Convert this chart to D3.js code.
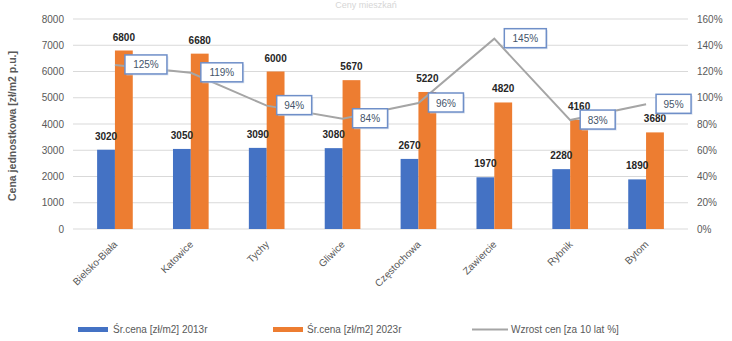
<!DOCTYPE html>
<html>
<head>
<meta charset="utf-8">
<script src="https://cdn.jsdelivr.net/npm/d3@7"></script>
<style>
  html, body { margin: 0; padding: 0; background: #fff; }
  svg { display: block; font-family: "Liberation Sans", Arial, sans-serif; }
</style>
</head>
<body>
<svg id="chart" width="732" height="341"></svg>
<script>
// Average unit prices per city and their 10-year growth
const cities = ["Bielsko-Biała", "Katowice", "Tychy", "Gliwice", "Częstochowa", "Zawiercie", "Rybnik", "Bytom"];
const price2013 = [3020, 3050, 3090, 3080, 2670, 1970, 2280, 1890];
const price2023 = [6800, 6680, 6000, 5670, 5220, 4820, 4160, 3680];
const growthPct = [125, 119, 94, 84, 96, 145, 83, 95];

const leftTicks = [0, 1000, 2000, 3000, 4000, 5000, 6000, 7000, 8000];
const rightTicks = [0, 20, 40, 60, 80, 100, 120, 140, 160];

const seriesNames = ["Śr.cena [zł/m2] 2013r", "Śr.cena [zł/m2] 2023r", "Wzrost cen [za 10 lat %]"];
const titleText = "Ceny mieszkań";
const yTitle = "Cena jednostkowa [zł/m2 p.u.]";

const colors = { blue: "#4472C4", orange: "#ED7D31", gray: "#A5A5A5", grid: "#D9D9D9", text: "#595959" };

const svg = d3.select("#chart");
const plot = { left: 77, right: 684, top: 19, bottom: 229 };

const x = d3.scaleBand().domain(cities).range([plot.left, plot.right])
  .paddingInner(0.53).paddingOuter(0.265);
const yL = d3.scaleLinear().domain([0, 8000]).range([plot.bottom, plot.top]);
const yR = d3.scaleLinear().domain([0, 160]).range([plot.bottom, plot.top]);
const half = x.bandwidth() / 2;

// faint title at the top edge
svg.append("text").attr("x", 366).attr("y", 8).attr("text-anchor", "middle")
  .attr("font-size", 9).attr("fill", "#d6d6d6").text(titleText);

// gridlines
svg.append("g").selectAll("line").data(leftTicks).join("line")
  .attr("x1", plot.left - 4).attr("x2", plot.right + 4)
  .attr("y1", d => yL(d)).attr("y2", d => yL(d))
  .attr("stroke", colors.grid).attr("stroke-width", 1);

// left axis
const axL = svg.append("g").attr("transform", `translate(${plot.left - 4},0)`)
  .call(d3.axisLeft(yL).tickValues(leftTicks).tickSize(0).tickPadding(9).tickFormat(d3.format("d")));
axL.select(".domain").remove();
axL.selectAll("text").attr("font-size", 10).attr("fill", colors.text).attr("font-family", "Liberation Sans, Arial, sans-serif");

// right axis
const axR = svg.append("g").attr("transform", `translate(${plot.right + 4},0)`)
  .call(d3.axisRight(yR).tickValues(rightTicks).tickSize(0).tickPadding(9).tickFormat(d => d + "%"));
axR.select(".domain").remove();
axR.selectAll("text").attr("font-size", 10).attr("fill", colors.text).attr("font-family", "Liberation Sans, Arial, sans-serif");

// y-axis title
svg.append("text").attr("transform", `translate(16,${(plot.top + plot.bottom) / 2 + 2}) rotate(-90)`)
  .attr("text-anchor", "middle").attr("font-size", 10.5).attr("font-weight", "bold")
  .attr("fill", colors.text).text(yTitle);

// bars
const bars = svg.append("g");
bars.selectAll("rect.b13").data(cities).join("rect").attr("class", "b13")
  .attr("x", d => x(d)).attr("width", half)
  .attr("y", (d, i) => yL(price2013[i])).attr("height", (d, i) => yL(0) - yL(price2013[i]))
  .attr("fill", colors.blue);
bars.selectAll("rect.b23").data(cities).join("rect").attr("class", "b23")
  .attr("x", d => x(d) + half).attr("width", half)
  .attr("y", (d, i) => yL(price2023[i])).attr("height", (d, i) => yL(0) - yL(price2023[i]))
  .attr("fill", colors.orange);

// bar value labels
const lab = svg.append("g").attr("font-size", 10).attr("font-weight", "bold").attr("fill", "#262626").attr("text-anchor", "middle");
lab.selectAll("text.l13").data(cities).join("text").attr("class", "l13")
  .attr("x", d => x(d) + half / 2).attr("y", (d, i) => yL(price2013[i]) - 10)
  .text((d, i) => price2013[i]);
lab.selectAll("text.l23").data(cities).join("text").attr("class", "l23")
  .attr("x", d => x(d) + half * 1.5).attr("y", (d, i) => yL(price2023[i]) - 10)
  .text((d, i) => price2023[i]);

// growth line
const pts = cities.map((c, i) => [x(c) + half, yR(growthPct[i])]);
svg.append("path").attr("d", d3.line()(pts))
  .attr("fill", "none").attr("stroke", colors.gray).attr("stroke-width", 2);

// growth callouts
const call = svg.append("g");
pts.forEach((p, i) => {
  const t = growthPct[i] + "%";
  const w = t.length > 3 ? 42 : 35;
  const g = call.append("g").attr("transform", `translate(${p[0] + 10},${p[1]})`);
  g.append("rect").attr("x", 1.5).attr("y", -8.5).attr("width", w).attr("height", 19)
    .attr("fill", "#c8d3e6").attr("opacity", 0.6);
  g.append("rect").attr("x", 0).attr("y", -10).attr("width", w).attr("height", 19)
    .attr("fill", "#fff").attr("stroke", "#6f8fc8").attr("stroke-width", 1.5);
  g.append("text").attr("x", w / 2).attr("y", 3.5).attr("text-anchor", "middle")
    .attr("font-size", 10).attr("fill", "#44546A").text(t);
});

// category labels
svg.append("g").selectAll("text").data(cities).join("text")
  .attr("transform", d => `translate(${x(d) + half + 3},${245}) rotate(-45)`)
  .attr("text-anchor", "end").attr("font-size", 10).attr("fill", colors.text)
  .text(d => d);

// legend
const lg = svg.append("g").attr("font-size", 10).attr("fill", colors.text);
lg.append("rect").attr("x", 78).attr("y", 327).attr("width", 30).attr("height", 5).attr("fill", colors.blue);
lg.append("text").attr("x", 113).attr("y", 333).text(seriesNames[0]);
lg.append("rect").attr("x", 273).attr("y", 327).attr("width", 30).attr("height", 5).attr("fill", colors.orange);
lg.append("text").attr("x", 307).attr("y", 333).text(seriesNames[1]);
lg.append("line").attr("x1", 472).attr("x2", 508).attr("y1", 329.5).attr("y2", 329.5)
  .attr("stroke", colors.gray).attr("stroke-width", 2);
lg.append("text").attr("x", 511).attr("y", 333).text(seriesNames[2]);
</script>
</body>
</html>
